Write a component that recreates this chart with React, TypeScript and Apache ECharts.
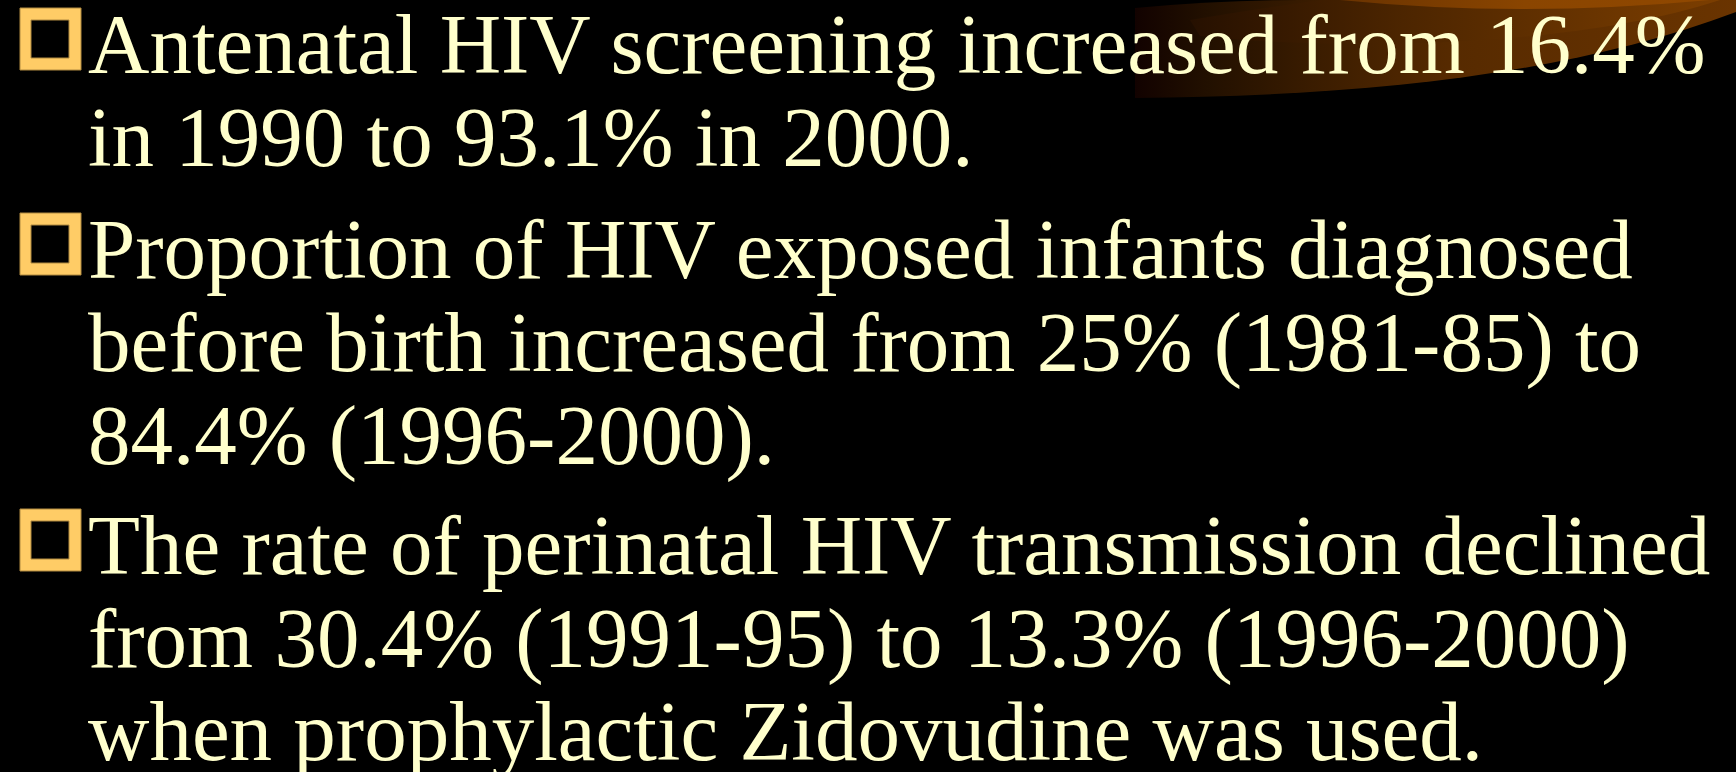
import React, { useEffect, useRef } from "react";
import * as echarts from "echarts";

// Slide text (one array per bullet, one string per line)
const bullet1: string[] = [
  "Antenatal HIV screening increased from 16.4%",
  "in 1990 to 93.1% in 2000.",
];
const bullet2: string[] = [
  "Proportion of HIV exposed infants diagnosed",
  "before birth increased from 25% (1981-85) to",
  "84.4% (1996-2000).",
];
const bullet3: string[] = [
  "The rate of perinatal HIV transmission declined",
  "from 30.4% (1991-95) to 13.3% (1996-2000)",
  "when prophylactic Zidovudine was used.",
];
const paragraphs: string[][] = [bullet1, bullet2, bullet3];

const W = 1736;
const H = 772;

try {
  echarts.graphic.registerShape(
    "swooshA",
    echarts.graphic.extendPath(
      "M1135,8 Q1220,0 1300,0 L1736,0 L1736,12 C1560,78 1350,96 1135,98 Z",
      {}
    )
  );
  echarts.graphic.registerShape(
    "swooshB",
    echarts.graphic.extendPath(
      "M1190,20 Q1250,10 1320,0 L1720,0 C1580,46 1350,52 1200,36 Z",
      {}
    )
  );
  echarts.graphic.registerShape(
    "swooshC",
    echarts.graphic.extendPath("M1340,0 L1710,0 Q1520,18 1340,0 Z", {})
  );
} catch (e) {
  // already registered
}

export default function App() {
  const ref = useRef<HTMLDivElement>(null);

  useEffect(() => {
    document.body.style.margin = "0";
    document.body.style.background = "#000";
    if (!ref.current) return;
    const chart = echarts.init(ref.current, undefined, { renderer: "svg" });

    const fontSize = 85;
    const textX = 88;
    const lineH = 93;
    const paraStarts = [69, 274, 570];
    const textColor = "#FFFFCC";
    const bulletColor = "#FFCC66";

    const elements: any[] = [];

    elements.push({
      type: "rect",
      shape: { x: 0, y: 0, width: W, height: H },
      style: { fill: "#000000" },
      silent: true,
    });

    elements.push({
      type: "swooshA",
      x: 0,
      y: 0,
      style: {
        fill: new echarts.graphic.LinearGradient(0, 0, 1, 0, [
          { offset: 0, color: "#120200" },
          { offset: 0.12, color: "#221000" },
          { offset: 0.28, color: "#381b00" },
          { offset: 0.52, color: "#562a00" },
          { offset: 1, color: "#6a3400" },
        ]),
      },
      silent: true,
    });
    elements.push({
      type: "swooshB",
      x: 0,
      y: 0,
      style: {
        fill: new echarts.graphic.LinearGradient(0, 0, 1, 0, [
          { offset: 0, color: "#261000" },
          { offset: 0.4, color: "#4c2500" },
          { offset: 1, color: "#7c3e00" },
        ]),
      },
      silent: true,
    });
    elements.push({
      type: "swooshC",
      x: 0,
      y: 0,
      style: {
        fill: new echarts.graphic.LinearGradient(0, 0, 1, 0, [
          { offset: 0, color: "#6a3300" },
          { offset: 0.5, color: "#8a4500" },
          { offset: 1, color: "#904800" },
        ]),
      },
      silent: true,
    });

    paragraphs.forEach((lines, pi) => {
      const base = paraStarts[pi];
      // bullet square
      elements.push({
        type: "rect",
        shape: { x: 20, y: base - 61, width: 61, height: 62 },
        style: { fill: bulletColor, stroke: "#b08a40", lineWidth: 1 },
        silent: true,
      });
      elements.push({
        type: "rect",
        shape: { x: 31, y: base - 49, width: 38, height: 38 },
        style: { fill: "#000000", stroke: "#b08a40", lineWidth: 1 },
        silent: true,
      });
      lines.forEach((line, li) => {
        const baseline = base + li * lineH;
        elements.push({
          type: "text",
          x: textX,
          y: baseline - 25,
          style: {
            text: line,
            fill: textColor,
            fontFamily: "'Liberation Serif', 'Times New Roman', serif",
            fontSize: fontSize,
            textAlign: "left",
            textVerticalAlign: "middle",
            verticalAlign: "middle",
          },
          silent: true,
        });
      });
    });

    chart.setOption({
      animation: false,
      backgroundColor: "#000000",
      graphic: { elements },
    });

    return () => {
      chart.dispose();
    };
  }, []);

  return <div ref={ref} style={{ width: W, height: H, background: "#000" }} />;
}
